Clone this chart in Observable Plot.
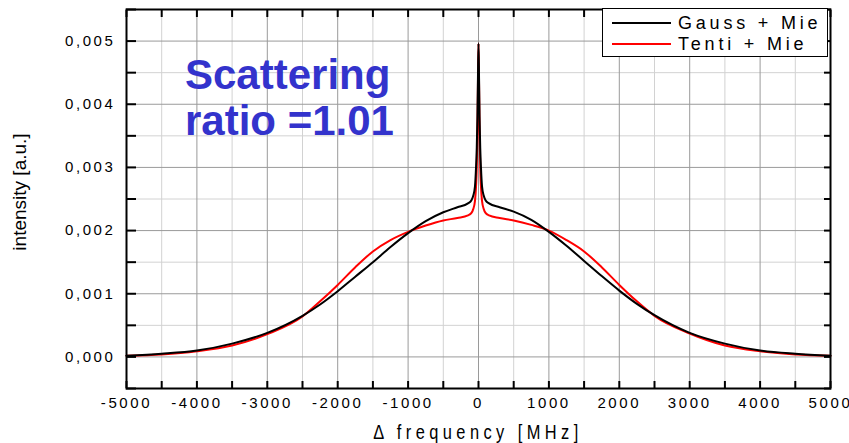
<!DOCTYPE html>
<html><head><meta charset="utf-8">
<script src="https://cdn.jsdelivr.net/npm/d3@7"></script>
<script src="https://cdn.jsdelivr.net/npm/@observablehq/plot@0.6"></script>
<style>
body{margin:0;background:#fff;font-family:"Liberation Sans",Arial,sans-serif;}
#wrap{position:relative;width:849px;height:443px;overflow:hidden;}
#wrap svg text{letter-spacing:2.6px;}
.title{position:absolute;left:185px;top:52px;color:#3333cc;font-weight:bold;font-size:42px;line-height:46px;white-space:nowrap;}
.legend{position:absolute;left:602px;top:8px;width:226px;height:49px;border:1px solid #000;background:#fff;box-sizing:border-box;}
.legend .ln{position:absolute;height:2px;width:59px;left:9px;}
.legend .lt{position:absolute;left:75px;font-size:18px;letter-spacing:3.8px;line-height:18px;white-space:nowrap;color:#000;}
.xlabel{position:absolute;left:126px;width:704px;top:422px;font-size:20px;line-height:20px;letter-spacing:5.4px;text-align:center;white-space:nowrap;transform:scaleX(0.82);transform-origin:center;color:#000;}
.ylabel{position:absolute;left:-130px;top:182px;width:300px;height:20px;font-size:19px;line-height:20px;text-align:center;white-space:nowrap;transform:rotate(-90deg);transform-origin:center;color:#000;}
</style></head>
<body><div id="wrap"></div>
<script>
const freq = [-5000, -4500, -4000, -3500, -3000, -2500, -2250, -2000, -1750, -1500, -1250, -1000, -750, -500, -300, -150, -100, -75, -50, -35, -25, -15, -8, 0, 8, 15, 25, 35, 50, 75, 100, 150, 300, 500, 750, 1000, 1250, 1500, 1750, 2000, 2250, 2500, 3000, 3500, 4000, 4500, 5000];
const gaussMie = [0.00002, 0.00005, 0.0001, 0.00021, 0.00038, 0.00065, 0.00083, 0.00104, 0.00127, 0.0015, 0.00174, 0.00196, 0.00215, 0.00229, 0.00237, 0.00243, 0.00248, 0.00255, 0.0027, 0.003, 0.0033, 0.0038, 0.0044, 0.00496, 0.0044, 0.0038, 0.0033, 0.003, 0.0027, 0.00255, 0.00248, 0.00243, 0.00237, 0.0023, 0.00217, 0.00198, 0.00176, 0.00152, 0.00128, 0.00105, 0.00084, 0.00066, 0.00038, 0.00021, 0.0001, 0.00005, 0.00002];
const tentiMie = [0.00002, 0.00004, 0.00009, 0.00018, 0.00036, 0.00064, 0.00088, 0.00114, 0.00142, 0.00167, 0.00185, 0.00198, 0.00208, 0.00216, 0.0022, 0.00224, 0.00228, 0.00234, 0.00247, 0.0027, 0.003, 0.0036, 0.0043, 0.00496, 0.0043, 0.0036, 0.003, 0.0027, 0.00247, 0.00234, 0.00228, 0.00224, 0.0022, 0.00216, 0.00209, 0.002, 0.00185, 0.00167, 0.00142, 0.00114, 0.00088, 0.00065, 0.00037, 0.00018, 0.00009, 0.00004, 0.00002];
const xMajor = [-5000, -4000, -3000, -2000, -1000, 0, 1000, 2000, 3000, 4000, 5000];
const xMinor = [-4500, -3500, -2500, -1500, -500, 500, 1500, 2500, 3500, 4500];
const yMajor = [0, 0.001, 0.002, 0.003, 0.004, 0.005];
const yMinor = [-0.0005, 0.0005, 0.0015, 0.0025, 0.0035, 0.0045, 0.0055];
const seriesNames = ["Gauss + Mie", "Tenti + Mie"];
const seriesColors = ["#000000", "#ff0000"];
const titleLines = ["Scattering", "ratio =1.01"];
const xLabel = "Δ frequency [MHz]";
const yLabel = "intensity [a.u.]";

const rows = [];
const seriesValues = [gaussMie, tentiMie];
// draw Tenti first, Gauss on top
[1, 0].forEach(s => freq.forEach((f, i) => rows.push({f, v: seriesValues[s][i], s: seriesNames[s]})));

const xAll = [...xMajor, ...xMinor].sort((a,b)=>a-b);
const yAll = [...yMajor, ...yMinor].sort((a,b)=>a-b);

const chart = Plot.plot({
  width: 849, height: 443,
  marginLeft: 126, marginRight: 19, marginTop: 9, marginBottom: 55,
  style: {fontFamily: '"Liberation Sans", Arial, sans-serif', fontSize: "15px", color: "#000", background: "#fff"},
  x: {domain: [-5000, 5000]},
  y: {domain: [-0.0005, 0.0055]},
  color: {domain: seriesNames, range: seriesColors},
  marks: [
    Plot.gridX(xMinor, {stroke: "#d2d2d2", strokeOpacity: 1, strokeWidth: 1}),
    Plot.gridY(yMinor, {stroke: "#d2d2d2", strokeOpacity: 1, strokeWidth: 1}),
    Plot.gridX(xMajor, {stroke: "#9a9a9a", strokeOpacity: 1, strokeWidth: 1}),
    Plot.gridY(yMajor, {stroke: "#9a9a9a", strokeOpacity: 1, strokeWidth: 1}),
    Plot.line(rows, {x: "f", y: "v", z: "s", stroke: "s", strokeWidth: 2, curve: "monotone-x"}),
    Plot.axisX(xMajor, {anchor: "bottom", tickSize: 0, tickPadding: 9, label: null, tickFormat: d => String(d)}),
    Plot.axisY(yMajor, {anchor: "left", tickSize: 0, tickPadding: 11, label: null, tickFormat: d => d.toFixed(3).replace(".", ",")}),
    Plot.axisX(xAll, {anchor: "bottom", tickSize: -7, tickFormat: () => "", label: null, strokeWidth: 2}),
    Plot.axisX(xAll, {anchor: "top", tickSize: -7, tickFormat: () => "", label: null, strokeWidth: 2}),
    Plot.axisY(yAll, {anchor: "left", tickSize: -10, tickFormat: () => "", label: null, strokeWidth: 2}),
    Plot.axisY(yAll, {anchor: "right", tickSize: -7, tickFormat: () => "", label: null, strokeWidth: 2}),
    Plot.frame({stroke: "#000", strokeWidth: 2})
  ]
});

const wrap = document.getElementById("wrap");
wrap.appendChild(chart);

const title = document.createElement("div");
title.className = "title";
title.innerHTML = titleLines.join("<br>");
wrap.appendChild(title);

d3.select(wrap).append("div").attr("class", "xlabel").text(xLabel);
d3.select(wrap).append("div").attr("class", "ylabel").text(yLabel);

const legend = d3.select(wrap).append("div").attr("class", "legend");
seriesNames.forEach((name, i) => {
  legend.append("div").attr("class", "ln").style("top", (13 + i * 21) + "px").style("background", seriesColors[i]);
  legend.append("div").attr("class", "lt").style("top", (5 + i * 21) + "px").text(name);
});
</script>
</body></html>
